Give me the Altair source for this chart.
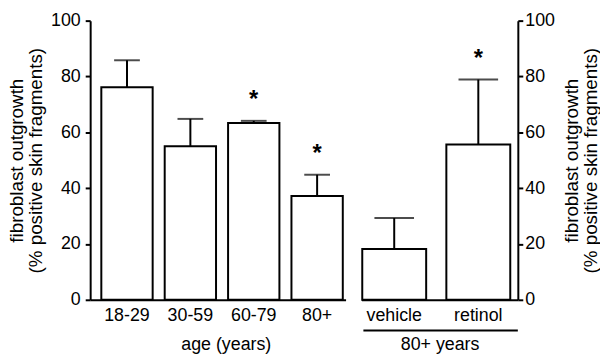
import altair as alt
import pandas as pd

# ---- data ----
age_groups = ["18-29", "30-59", "60-79", "80+"]
age_values = [76.1, 55.0, 63.3, 37.2]
age_err_top = [85.8, 64.8, 64.1, 44.8]
age_sig = ["", "", "*", "*"]

treat_groups = ["vehicle", "retinol"]
treat_values = [18.2, 55.6]
treat_err_top = [29.3, 78.9]
treat_sig = ["", "*"]

y_ticks = [0, 20, 40, 60, 80, 100]
y_title = ["fibroblast outgrowth", "(% positive skin fragments)"]

FONT = "Liberation Sans"
PLOT_H = 282

left_df = pd.DataFrame({"group": age_groups, "value": age_values,
                        "err": age_err_top, "star": age_sig})
right_df = pd.DataFrame({"group": treat_groups, "value": treat_values,
                         "err": treat_err_top, "star": treat_sig})

common_x_axis = dict(labelAngle=0, ticks=False, domainWidth=2, domainColor="black",
                     labelPadding=7, titlePadding=11, labelFontSize=18, titleFontSize=18,
                     titleFontWeight="normal", labelColor="black", titleColor="black")
common_y_axis = dict(values=y_ticks, grid=False, tickSize=5, tickWidth=2, tickColor="black",
                     domainWidth=2, domainColor="black", labelFontSize=18, titleFontSize=19,
                     titleFontWeight="normal", titleLineHeight=19, labelColor="black",
                     titleColor="black", title=y_title, titleAngle=270,
                     titleBaseline="top", titleAlign="center", titleY=PLOT_H / 2)


def panel(df, groups, x_scale, x_axis, y_axis, width, cap):
    base = alt.Chart(df).encode(
        x=alt.X("group:N", sort=groups, scale=x_scale, axis=x_axis),
    )
    yscale = alt.Scale(domain=[0, 100], nice=False)
    bars = base.mark_bar(fill="white", stroke="black", strokeWidth=2).encode(
        y=alt.Y("value:Q", scale=yscale, axis=y_axis)
    )
    stem = base.mark_rule(color="black", strokeWidth=2).encode(
        y=alt.Y("value:Q"), y2="err:Q"
    )
    caps = base.mark_tick(color="black", thickness=2, size=cap).encode(y="err:Q")
    stars = base.mark_text(dy=-21, fontSize=24, fontWeight="bold", font=FONT,
                           color="black").encode(y="err:Q", text="star:N")
    return alt.layer(bars, stem, caps, stars).properties(width=width, height=PLOT_H)


left = panel(
    left_df, age_groups,
    alt.Scale(paddingInner=0.19, paddingOuter=0.11, align=0.8),
    alt.Axis(title="age (years)", titleX=137, **common_x_axis),
    alt.Axis(orient="left", labelPadding=5, titleX=-83, **common_y_axis),
    258, 26,
)

underline = alt.Chart(pd.DataFrame({"a": [0]})).mark_rule(
    color="black", strokeWidth=2
).encode(x=alt.value(2), x2=alt.value(158), y=alt.value(PLOT_H + 31))

right = alt.layer(
    panel(
        right_df, treat_groups,
        alt.Scale(paddingInner=0.24, paddingOuter=0.05, align=0.1),
        alt.Axis(title="80+ years", **common_x_axis),
        alt.Axis(orient="right", labelPadding=2, titleX=45, **common_y_axis),
        158, 40,
    ),
    underline,
).properties(width=158, height=PLOT_H)

chart = alt.hconcat(left, right, spacing=15).properties(
    padding={"left": 0, "top": 2, "right": 0, "bottom": 0}
).configure(font=FONT).configure_view(stroke=None)

chart.save("out.html", embed_options={"renderer": "svg", "actions": False})
